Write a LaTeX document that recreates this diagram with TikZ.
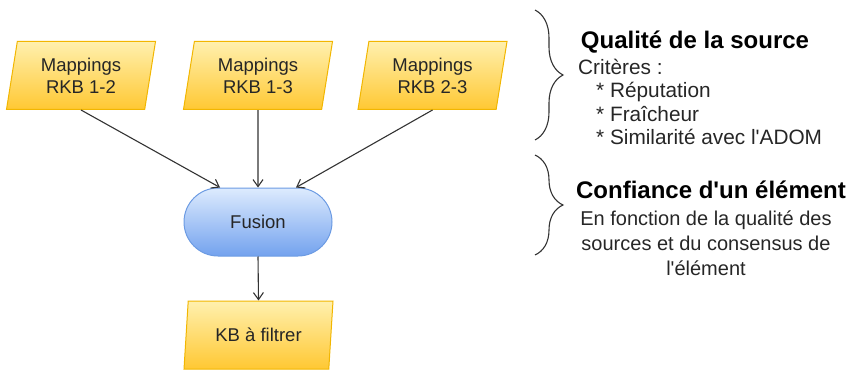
\documentclass[tikz,border=0pt]{standalone}
\usepackage{fontspec}
\setmainfont{Liberation Sans}
\usetikzlibrary{shapes.geometric,arrows.meta,decorations.pathreplacing}
\definecolor{yelTop}{HTML}{FFF0AE}
\definecolor{yelBot}{HTML}{FFC833}
\definecolor{yelLine}{HTML}{F2B600}
\definecolor{bluTop}{HTML}{DDEBFE}
\definecolor{bluBot}{HTML}{73A2EE}
\definecolor{bluLine}{HTML}{6C9BE3}
\definecolor{lineGray}{HTML}{333333}
\begin{document}
\begin{tikzpicture}[x=1pt,y=1pt,
  databox/.style={trapezium,trapezium left angle=73,trapezium right angle=107,
    trapezium stretches body,minimum width=149pt,minimum height=68pt,inner sep=0pt,
    draw=yelLine,line width=1pt,top color=yelTop,bottom color=yelBot,
    align=center,font=\fontsize{18.5}{22}\selectfont,text=black!85},
  procbox/.style={rectangle,rounded corners=34pt,minimum width=148pt,minimum height=68pt,
    draw=bluLine,line width=1pt,top color=bluTop,bottom color=bluBot,
    font=\fontsize{18.5}{22}\selectfont,text=black!85},
  flow/.style={draw=lineGray,line width=1.1pt,-{Straight Barb[length=7pt,width=10pt]}},
  curly/.style={draw=lineGray,line width=1.1pt,decorate,decoration={brace,amplitude=28pt}},
  title/.style={font=\fontsize{24}{28}\selectfont\bfseries},
  body/.style={font=\fontsize{20}{23.3}\selectfont,text=black!85}]
 \useasboundingbox (0,0) rectangle (853,370);
 % data sources
 \node[databox] (map12) at (81,294.5) {Mappings\\RKB 1-2};
 \node[databox] (map13) at (258,294.5) {Mappings\\RKB 1-3};
 \node[databox] (map23) at (432.5,294.5) {Mappings\\RKB 2-3};
 \node[procbox] (fusion) at (258,148) {Fusion};
 \node[databox] (kb) at (258.5,35) {KB à filtrer};
 % connectors
 \draw[flow] (map12.south) -- ([xshift=-38pt]fusion.north);
 \draw[flow] (map13.south) -- (fusion.north);
 \draw[flow] (map23.south) -- ([xshift=38pt]fusion.north);
 \draw[flow] (fusion.south) -- (kb.north);
 % braces and notes
 \coordinate (qTop) at (535,360);
 \coordinate (qBot) at (535,230);
 \coordinate (cTop) at (535,215);
 \coordinate (cBot) at (535,115);
 \draw[curly] (qTop) -- (qBot);
 \draw[curly] (cTop) -- (cBot);
 \node[title] (qual) at (695,328) {Qualité de la source};
 \node[body,anchor=north west,align=left,inner sep=0pt,font=\fontsize{20.8}{23.3}\selectfont] (crit) at (578,311)
   {Critères :\\\hspace*{18pt}* Réputation\\\hspace*{18pt}* Fraîcheur\\\hspace*{18pt}* Similarité avec l\textquotesingle ADOM};
 \node[title] (conf) at (711,180) {Confiance d\textquotesingle un élément};
 \node[body,align=center,font=\fontsize{20}{25}\selectfont] (confTxt) at (706,127)
   {En fonction de la qualité des\\sources et du consensus de\\l\textquotesingle élément};
\end{tikzpicture}
\end{document}
